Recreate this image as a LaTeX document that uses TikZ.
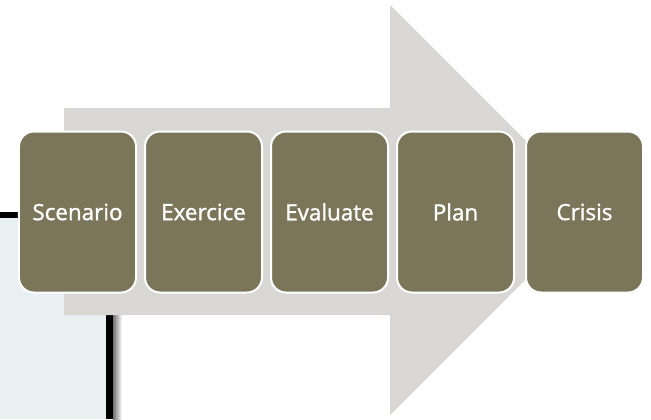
\documentclass[tikz,border=0pt]{standalone}
\usepackage{fontspec}
\setmainfont{Open Sans}
\newfontfamily\stepfont{Open Sans}[FakeBold=1.3]
\usepackage{tikz}
\usetikzlibrary{positioning}

\definecolor{stepolive}{RGB}{123,118,89}
\definecolor{arrowgrey}{RGB}{216,215,211}
\definecolor{panelblue}{RGB}{232,240,242}

\tikzset{
    stepbox/.style={draw=white, line width=2bp, fill=stepolive, rounded corners=15bp,
        minimum width=117bp, minimum height=161bp, text=white,
        font=\stepfont\fontsize{22.5}{26}\selectfont},
}

\begin{document}
\begin{tikzpicture}[x=1bp,y=-1bp]
    \useasboundingbox (0,0) rectangle (651,419);

%draw left panel with its frame and shadow
    \fill[panelblue] (0,218) rectangle (106,419);
    \shade[left color=black!55, right color=white] (113,300) rectangle (122,419);
    \fill[black] (0,212) rectangle (113,218);
    \fill[black] (106,212) rectangle (113,419);

%draw big arrow behind the steps
    \fill[arrowgrey] (64,108) -- (390,108) -- (390,5) -- (595,210)
        -- (390,415) -- (390,315) -- (64,315) -- cycle;

%draw steps
    \node[stepbox] (scenario) at (77.5,212) {Scenario};
    \node[stepbox, right=7bp of scenario] (exercice) {Exercice};
    \node[stepbox, right=7bp of exercice] (evaluate) {Evaluate};
    \node[stepbox, right=7bp of evaluate] (plan) {Plan};
    \node[stepbox, right=10bp of plan] (crisis) {Crisis};

\end{tikzpicture}
\end{document}
